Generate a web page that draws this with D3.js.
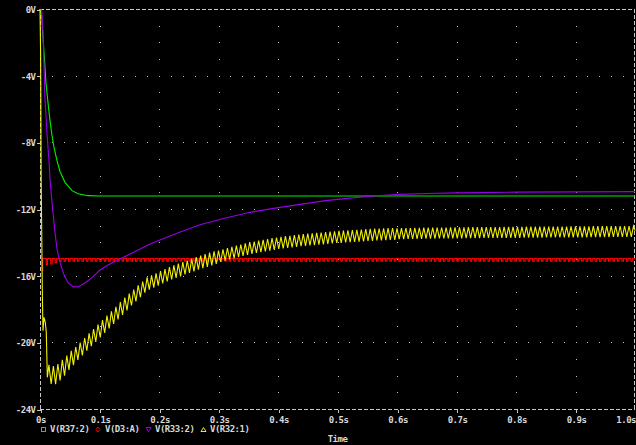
<!DOCTYPE html>
<html><head><meta charset="utf-8">
<script src="https://cdn.jsdelivr.net/npm/d3@7"></script>
<style>
html,body{margin:0;padding:0;background:#000;}
svg{display:block;}
text{font-family:"DejaVu Sans Mono",monospace;font-weight:bold;font-size:9px;letter-spacing:-0.5px;fill:#d8d8d8;}
</style></head>
<body>
<svg id="c" width="636" height="445"></svg>
<script>
// ---- tick labels ----
const voltTicks = [0, -4, -8, -12, -16, -20, -24];
const voltTickLabels = ["0V", "-4V", "-8V", "-12V", "-16V", "-20V", "-24V"];
const timeTicks = [0, 100, 200, 300, 400, 500, 600, 700, 800, 900, 1000]; // ms
const timeTickLabels = ["0s", "0.1s", "0.2s", "0.3s", "0.4s", "0.5s", "0.6s", "0.7s", "0.8s", "0.9s", "1.0s"];
const xTitle = "Time";

// ---- series (time in ms, value in V) ----
const seriesNames = ["V(R37:2)", "V(D3:A)", "V(R33:2)", "V(R32:1)"];
const seriesColors = ["#00f000", "#ff0000", "#9600e6", "#f0f000"];

const greenR37 = [[0,0],[3,-0.5],[5,-1.7],[7.6,-3.06],[10.1,-4.44],[13.4,-5.6],[16.8,-6.7],[20.2,-7.6],[23.5,-8.3],[28.6,-9.1],[33.6,-9.75],[42,-10.4],[53.8,-10.9],[63.9,-11.08],[80.7,-11.2],[100,-11.22],[1000,-11.22]];

const purpleR33 = [[0,0],[3,-0.1],[5,-1.4],[6.7,-3.4],[8.4,-5.4],[11.8,-7.5],[15.1,-9.1],[16.8,-10.2],[20.2,-11.6],[22.7,-12.5],[25.2,-13.4],[28.6,-14.4],[33.6,-15.2],[40.3,-15.95],[47.1,-16.42],[55.5,-16.66],[63.9,-16.68],[75.6,-16.44],[87.4,-16.12],[100.8,-15.66],[114.3,-15.36],[140,-14.9],[185,-14.1],[230,-13.45],[269,-12.95],[310,-12.55],[353,-12.2],[395,-11.95],[437,-11.72],[480,-11.5],[521,-11.35],[560,-11.22],[605,-11.12],[650,-11.07],[700,-11.03],[800,-10.99],[900,-10.97],[1000,-10.96]];

const redD3 = [[3,-15.7],[4.5,-14.97],[10.5,-15.35],[12.5,-14.97],[18,-15.3],[20.5,-14.97],[25.5,-15.22],[28,-14.97],
[33,-15.13],[35.5,-14.97],[40.5,-15.13],[43,-14.97],[48,-15.13],[50.5,-14.97],[55.5,-15.13],[58,-14.97],[63,-15.13],[65.5,-14.97],[70.5,-15.13],[73,-14.97],[78,-15.13],[80.5,-14.97],[85.5,-15.13],[88,-14.97],[93,-15.13],[95.5,-14.97],[100.5,-15.13],[103,-14.97],
[108,-15.13],[110.5,-14.97],[115.5,-15.13],[118,-14.97],[123,-15.13],[125.5,-14.97],[130.5,-15.13],[133,-14.97],[138,-15.13],[140.5,-14.97],[145.5,-15.13],[148,-14.97],[153,-15.13],[155.5,-14.97],[160.5,-15.13],[163,-14.97],[168,-15.13],[170.5,-14.97],[175.5,-15.13],[178,-14.97],
[183,-15.13],[185.5,-14.97],[190.5,-15.13],[193,-14.97],[198,-15.13],[200.5,-14.97],[205.5,-15.13],[208,-14.97],[213,-15.13],[215.5,-14.97],[220.5,-15.13],[223,-14.97],[228,-15.13],[230.5,-14.97],[235.5,-15.13],[238,-14.97],[243,-15.13],[245.5,-14.97],[250.5,-15.13],[253,-14.97],
[258,-15.13],[260.5,-14.97],[265.5,-15.13],[268,-14.97],[273,-15.13],[275.5,-14.97],[280.5,-15.13],[283,-14.97],[288,-15.13],[290.5,-14.97],[295.5,-15.13],[298,-14.97],[303,-15.13],[305.5,-14.97],[310.5,-15.13],[313,-14.97],[318,-15.13],[320.5,-14.97],[325.5,-15.13],[328,-14.97],
[333,-15.13],[335.5,-14.97],[340.5,-15.13],[343,-14.97],[348,-15.13],[350.5,-14.97],[355.5,-15.13],[358,-14.97],[363,-15.13],[365.5,-14.97],[370.5,-15.13],[373,-14.97],[378,-15.13],[380.5,-14.97],[385.5,-15.13],[388,-14.97],[393,-15.13],[395.5,-14.97],[400.5,-15.13],[403,-14.97],
[408,-15.13],[410.5,-14.97],[415.5,-15.13],[418,-14.97],[423,-15.13],[425.5,-14.97],[430.5,-15.13],[433,-14.97],[438,-15.13],[440.5,-14.97],[445.5,-15.13],[448,-14.97],[453,-15.13],[455.5,-14.97],[460.5,-15.13],[463,-14.97],[468,-15.13],[470.5,-14.97],[475.5,-15.13],[478,-14.97],
[483,-15.13],[485.5,-14.97],[490.5,-15.13],[493,-14.97],[498,-15.13],[500.5,-14.97],[505.5,-15.13],[508,-14.97],[513,-15.13],[515.5,-14.97],[520.5,-15.13],[523,-14.97],[528,-15.13],[530.5,-14.97],[535.5,-15.13],[538,-14.97],[543,-15.13],[545.5,-14.97],[550.5,-15.13],[553,-14.97],
[558,-15.13],[560.5,-14.97],[565.5,-15.13],[568,-14.97],[573,-15.13],[575.5,-14.97],[580.5,-15.13],[583,-14.97],[588,-15.13],[590.5,-14.97],[595.5,-15.13],[598,-14.97],[603,-15.13],[605.5,-14.97],[610.5,-15.13],[613,-14.97],[618,-15.13],[620.5,-14.97],[625.5,-15.13],[628,-14.97],
[633,-15.13],[635.5,-14.97],[640.5,-15.13],[643,-14.97],[648,-15.13],[650.5,-14.97],[655.5,-15.13],[658,-14.97],[663,-15.13],[665.5,-14.97],[670.5,-15.13],[673,-14.97],[678,-15.13],[680.5,-14.97],[685.5,-15.13],[688,-14.97],[693,-15.13],[695.5,-14.97],[700.5,-15.13],[703,-14.97],
[708,-15.13],[710.5,-14.97],[715.5,-15.13],[718,-14.97],[723,-15.13],[725.5,-14.97],[730.5,-15.13],[733,-14.97],[738,-15.13],[740.5,-14.97],[745.5,-15.13],[748,-14.97],[753,-15.13],[755.5,-14.97],[760.5,-15.13],[763,-14.97],[768,-15.13],[770.5,-14.97],[775.5,-15.13],[778,-14.97],
[783,-15.13],[785.5,-14.97],[790.5,-15.13],[793,-14.97],[798,-15.13],[800.5,-14.97],[805.5,-15.13],[808,-14.97],[813,-15.13],[815.5,-14.97],[820.5,-15.13],[823,-14.97],[828,-15.13],[830.5,-14.97],[835.5,-15.13],[838,-14.97],[843,-15.13],[845.5,-14.97],[850.5,-15.13],[853,-14.97],
[858,-15.13],[860.5,-14.97],[865.5,-15.13],[868,-14.97],[873,-15.13],[875.5,-14.97],[880.5,-15.13],[883,-14.97],[888,-15.13],[890.5,-14.97],[895.5,-15.13],[898,-14.97],[903,-15.13],[905.5,-14.97],[910.5,-15.13],[913,-14.97],[918,-15.13],[920.5,-14.97],[925.5,-15.13],[928,-14.97],
[933,-15.13],[935.5,-14.97],[940.5,-15.13],[943,-14.97],[948,-15.13],[950.5,-14.97],[955.5,-15.13],[958,-14.97],[963,-15.13],[965.5,-14.97],[970.5,-15.13],[973,-14.97],[978,-15.13],[980.5,-14.97],[985.5,-15.13],[988,-14.97],[993,-15.13],[995.5,-14.97],[1000,-14.97]];

const yellowR32 = [[0,0],[1,-2.6],[2,-10.3],[4,-17.2],[5,-19.3],[6.7,-18.5],[8.9,-18.8],[10.6,-19.4],[12.3,-22.1],
[15,-21.35],[18.75,-22.49],[22.5,-21.43],[26.25,-22.51],[30,-21.30],[33.75,-22.29],[37.5,-21.05],[41.25,-22.0],[45,-20.8],[48.75,-21.65],[52.5,-20.51],[56.25,-21.37],[60,-20.29],[63.75,-21.05],[67.5,-20.01],[71.25,-20.78],[75,-19.74],[78.75,-20.50],
[82.5,-19.46],[86.25,-20.23],[90,-19.20],[93.75,-19.97],[97.5,-18.93],[101.25,-19.70],[105,-18.67],[108.75,-19.43],[112.5,-18.40],[116.25,-19.17],[120,-18.14],[123.75,-18.90],[127.5,-17.87],[131.25,-18.63],[135,-17.59],[138.75,-18.36],[142.5,-17.32],[146.25,-18.08],
[150,-17.08],[153.75,-17.79],[157.5,-16.83],[161.25,-17.54],[165,-16.58],[168.75,-17.29],[172.5,-16.35],[176.25,-17.02],[180,-16.10],[183.75,-16.84],[187.5,-15.98],[191.25,-16.72],[195,-15.86],[198.75,-16.60],[202.5,-15.73],[206.25,-16.47],[210,-15.61],[213.75,-16.35],
[217.5,-15.49],[221.25,-16.23],[225,-15.38],[228.75,-16.13],[232.5,-15.28],[236.25,-16.04],[240,-15.19],[243.75,-15.93],[247.5,-15.09],[251.25,-15.84],[255,-14.99],[258.75,-15.74],[262.5,-14.89],[266.25,-15.64],[270,-14.79],[273.75,-15.55],[277.5,-14.71],[281.25,-15.47],
[285,-14.62],[288.75,-15.38],[292.5,-14.54],[296.25,-15.30],[300,-14.50],[303.75,-15.18],[307.5,-14.42],[311.25,-15.10],[315,-14.34],[318.75,-15.03],[322.5,-14.27],[326.25,-14.96],[330,-14.20],[333.75,-14.89],[337.5,-14.13],[341.25,-14.82],[345,-14.06],[348.75,-14.75],
[352.5,-13.99],[356.25,-14.69],[360,-13.95],[363.75,-14.64],[367.5,-13.90],[371.25,-14.59],[375,-13.85],[378.75,-14.55],[382.5,-13.80],[386.25,-14.50],[390,-13.75],[393.75,-14.45],[397.5,-13.71],[401.25,-14.40],[405,-13.67],[408.75,-14.37],[412.5,-13.63],[416.25,-14.34],
[420,-13.61],[423.75,-14.31],[427.5,-13.57],[431.25,-14.27],[435,-13.53],[438.75,-14.23],[442.5,-13.50],[446.25,-14.21],[450,-13.48],[453.75,-14.19],[457.5,-13.46],[461.25,-14.17],[465,-13.43],[468.75,-14.14],[472.5,-13.41],[476.25,-14.12],[480,-13.38],[483.75,-14.09],
[487.5,-13.36],[491.25,-14.07],[495,-13.34],[498.75,-14.04],[502.5,-13.31],[506.25,-14.03],[510,-13.30],[513.75,-14.01],[517.5,-13.28],[521.25,-13.99],[525,-13.26],[528.75,-13.97],[532.5,-13.25],[536.25,-13.96],[540,-13.23],[543.75,-13.94],[547.5,-13.21],[551.25,-13.92],
[555,-13.19],[558.75,-13.91],[562.5,-13.18],[566.25,-13.89],[570,-13.17],[573.75,-13.88],[577.5,-13.16],[581.25,-13.87],[585,-13.15],[588.75,-13.86],[592.5,-13.14],[596.25,-13.85],[600,-13.16],[603.75,-13.81],
[607.5,-13.15],[611.25,-13.81],[615,-13.14],[618.75,-13.80],[622.5,-13.14],[626.25,-13.80],[630,-13.13],[633.75,-13.79],[637.5,-13.13],[641.25,-13.79],[645,-13.12],[648.75,-13.78],[652.5,-13.12],[656.25,-13.78],[660,-13.12],[663.75,-13.78],[667.5,-13.11],[671.25,-13.77],
[675,-13.11],[678.75,-13.77],[682.5,-13.11],[686.25,-13.77],[690,-13.10],[693.75,-13.76],[697.5,-13.10],[701.25,-13.76],[705,-13.10],[708.75,-13.76],[712.5,-13.10],[716.25,-13.75],[720,-13.09],[723.75,-13.75],[727.5,-13.09],[731.25,-13.75],[735,-13.09],[738.75,-13.75],
[742.5,-13.09],[746.25,-13.74],[750,-13.08],[753.75,-13.74],[757.5,-13.08],[761.25,-13.74],[765,-13.08],[768.75,-13.74],[772.5,-13.08],[776.25,-13.73],[780,-13.07],[783.75,-13.73],[787.5,-13.07],[791.25,-13.73],[795,-13.07],[798.75,-13.73],
[802.5,-13.07],[806.25,-13.73],[810,-13.07],[813.75,-13.72],[817.5,-13.06],[821.25,-13.72],[825,-13.06],[828.75,-13.72],[832.5,-13.06],[836.25,-13.72],[840,-13.06],[843.75,-13.72],[847.5,-13.06],[851.25,-13.71],[855,-13.05],[858.75,-13.71],
[862.5,-13.05],[866.25,-13.71],[870,-13.05],[873.75,-13.71],[877.5,-13.05],[881.25,-13.71],[885,-13.05],[888.75,-13.70],[892.5,-13.04],[896.25,-13.70],[900,-13.04],[903.75,-13.70],[907.5,-13.04],[911.25,-13.70],[915,-13.04],[918.75,-13.70],
[922.5,-13.04],[926.25,-13.69],[930,-13.03],[933.75,-13.69],[937.5,-13.03],[941.25,-13.69],[945,-13.03],[948.75,-13.69],[952.5,-13.03],[956.25,-13.69],[960,-13.03],[963.75,-13.68],[967.5,-13.02],[971.25,-13.68],[975,-13.02],[978.75,-13.68],
[982.5,-13.02],[986.25,-13.68],[990,-13.02],[993.75,-13.68],[997.5,-13.02],[1000,-13.3]];

// ---- layout ----
const svg = d3.select("#c");
const W = 636, H = 445;
svg.append("rect").attr("width", W).attr("height", H).attr("fill", "#000");

const x = d3.scaleLinear().domain([0, 1000]).range([40, 635]);
const y = d3.scaleLinear().domain([-24, 0]).range([409, 9]);
const frameColor = "#c8c8c8";
const dotColor = "#c0c0c0";

// grid dots
const gDots = svg.append("g").attr("fill", dotColor).attr("shape-rendering", "crispEdges");
const hGridVolts = voltTicks.slice(1, -1);
const dotTimes = d3.range(20, 1000, 20);
hGridVolts.forEach(v => {
  dotTimes.forEach(t => {
    gDots.append("rect").attr("x", Math.round(x(t))).attr("y", Math.round(y(v))).attr("width", 1).attr("height", 1);
  });
});
const vGridTimes = timeTicks.slice(1, -1);
const dotVolts = d3.range(-1, -24, -1);
vGridTimes.forEach(t => {
  dotVolts.forEach(v => {
    gDots.append("rect").attr("x", Math.round(x(t))).attr("y", Math.round(y(v))).attr("width", 1).attr("height", 1);
  });
});

// dashed frame
const gFrame = svg.append("g").attr("stroke", frameColor).attr("stroke-width", 1)
  .attr("stroke-dasharray", "4,2").attr("shape-rendering", "crispEdges");
gFrame.append("line").attr("x1", x(0)).attr("x2", x(1000)).attr("y1", y(0) + 0.5).attr("y2", y(0) + 0.5);
gFrame.append("line").attr("x1", x(0)).attr("x2", x(1000)).attr("y1", y(-24) + 0.5).attr("y2", y(-24) + 0.5);
gFrame.append("line").attr("x1", x(0) + 0.5).attr("x2", x(0) + 0.5).attr("y1", y(0)).attr("y2", y(-24));
gFrame.append("line").attr("x1", x(1000) - 0.5).attr("x2", x(1000) - 0.5).attr("y1", y(0)).attr("y2", y(-24));

// axes
const yAxis = d3.axisLeft(y).tickValues(voltTicks).tickSize(4).tickPadding(1)
  .tickFormat((d, i) => voltTickLabels[i]);
const gy = svg.append("g").attr("transform", "translate(40.5,0.5)").call(yAxis);
const xAxis = d3.axisBottom(x).tickValues(timeTicks).tickSize(3).tickPadding(4)
  .tickFormat((d, i) => timeTickLabels[i]);
const gx = svg.append("g").attr("transform", "translate(0.5,409.5)").call(xAxis);
[gx, gy].forEach(g => {
  g.select(".domain").remove();
  g.selectAll(".tick line").attr("stroke", frameColor).attr("shape-rendering", "crispEdges");
  g.selectAll(".tick text").attr("fill", "#d8d8d8").style("font-size", "9px")
    .style("font-family", "'DejaVu Sans Mono', monospace").style("font-weight", "bold");
});
gx.selectAll(".tick text").filter((d, i) => i === timeTicks.length - 1).attr("text-anchor", "end").attr("x", 0);

// curves
const line = d3.line().x(d => x(d[0])).y(d => y(d[1]));
const lineStep = d3.line().x(d => x(d[0])).y(d => y(d[1])).curve(d3.curveStepAfter);
const gCurves = svg.append("g").attr("fill", "none").attr("stroke-width", 1.1);
gCurves.append("path").datum(greenR37).attr("d", line).attr("stroke", seriesColors[0]);
gCurves.append("path").datum(redD3).attr("d", lineStep).attr("stroke", seriesColors[1]);
gCurves.append("path").datum(purpleR33).attr("d", line).attr("stroke", seriesColors[2]);
gCurves.append("path").datum(yellowR32).attr("d", line).attr("stroke", seriesColors[3]);

// legend
const lg = svg.append("g");
const legTextX = [50, 105, 155, 210];
const legMarkX = [43.5, 98, 148.5, 203.5];
const legY = 432;
const markerMakers = [
  (g, cx) => g.append("rect").attr("x", cx - 2).attr("y", legY - 4.5).attr("width", 4).attr("height", 4),
  (g, cx) => g.append("path").attr("d", `M${cx},${legY - 5} L${cx + 2},${legY - 2.5} L${cx},${legY} L${cx - 2},${legY - 2.5}Z`),
  (g, cx) => g.append("path").attr("d", `M${cx - 2.5},${legY - 4.5} L${cx + 2.5},${legY - 4.5} L${cx},${legY - 0.5}Z`),
  (g, cx) => g.append("path").attr("d", `M${cx - 2.5},${legY - 0.5} L${cx + 2.5},${legY - 0.5} L${cx},${legY - 4.5}Z`)
];
seriesNames.forEach((name, i) => {
  markerMakers[i](lg, legMarkX[i]).attr("fill", "none").attr("stroke", seriesColors[i]).attr("stroke-width", 1);
  lg.append("text").attr("x", legTextX[i]).attr("y", legY).text(name);
});
svg.append("text").attr("x", (x(0) + x(1000)) / 2).attr("y", 442).attr("text-anchor", "middle").text(xTitle);
</script>
</body></html>
